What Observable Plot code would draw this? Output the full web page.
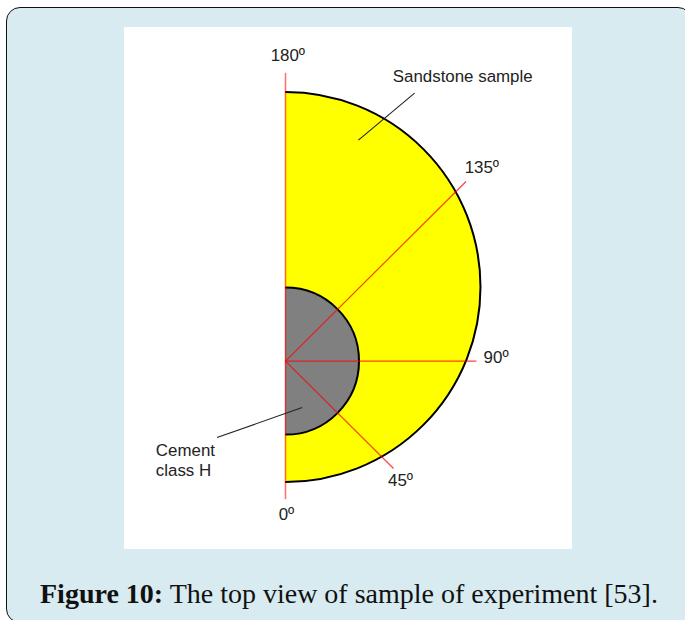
<!DOCTYPE html>
<html><head><meta charset="utf-8">
<script src="https://cdn.jsdelivr.net/npm/d3@7"></script>
<script src="https://cdn.jsdelivr.net/npm/@observablehq/plot@0.6"></script>
<style>
html,body{margin:0;padding:0;background:#fff;width:685px;height:620px;overflow:hidden}
#card{position:absolute;left:6px;top:7px;width:684px;height:614px;background:#d7ebf0;border:1.5px solid #111;border-radius:14px}
#chart{position:absolute;left:124px;top:27px;width:448px;height:522px}
#chart svg{display:block}
#cap{position:absolute;left:40px;top:576px;font:28px "Liberation Serif",serif;color:#111;white-space:nowrap;line-height:36px}
</style></head><body>
<div id="card"></div><div id="chart"></div>
<div id="cap"><b>Figure 10:</b> The top view of sample of experiment [53].</div>
<script>
// Units: 1 = sandstone radius / 10. Origin = sandstone centre.
const discNames = ["Sandstone sample", "Cement class H"];
const discX = [0, 0];
const discY = [0, -3.8];
const discR = [10, 3.77];
const discFill = ["#ffff00", "#808080"];

const rayAngles = [135, 90, 45];
const rayEndX = [9.26, 9.79, 5.54];
const rayEndY = [5.41, -3.8, -9.31];

const axisX = [0, 0];
const axisY = [10.95, -10.85];

const leaderX1 = [6.62, -3.51];
const leaderY1 = [9.94, -7.72];
const leaderX2 = [3.74, 0.855];
const leaderY2 = [7.53, -6.18];

const labels = ["180º", "135º", "90º", "45º", "0º", "Sandstone sample", "Cement\nclass H"];
const labelX = [0.12, 10.07, 10.8, 5.9, 0.05, 5.5, -6.65];
const labelY = [11.9, 6.2, -3.55, -9.85, -11.6, 10.87, -8.85];
const labelAnchor = ["middle", "middle", "middle", "middle", "middle", "start", "start"];

const discs = discNames.map((name, i) => ({name, x: discX[i], y: discY[i], r: discR[i], fill: discFill[i]}));
const rays = rayAngles.map((a, i) => ({a, x1: 0, y1: -3.8, x2: rayEndX[i], y2: rayEndY[i]}));
const leaders = leaderX1.map((x, i) => ({x1: x, y1: leaderY1[i], x2: leaderX2[i], y2: leaderY2[i]}));
const texts = labels.map((t, i) => ({t, x: labelX[i], y: labelY[i], a: labelAnchor[i]}));
const labelMark = a => Plot.text(texts.filter(d => d.a === a), {
  x: "x", y: "y", text: "t", textAnchor: a, fill: "#222", fontSize: 16.9,
  fontFamily: "Liberation Sans", lineHeight: 1.2
});

const plot = Plot.plot({
  width: 448, height: 522,
  marginLeft: 161, marginRight: 0, marginTop: 0, marginBottom: 0,
  style: {background: "#fff"},
  x: {domain: [0, 287 / 19.5], axis: null},
  y: {domain: [-262.5 / 19.5, 259.5 / 19.5], axis: null},
  r: {type: "linear", domain: [0, 10], range: [0, 195]},
  marks: [
    Plot.dot(discs, {x: "x", y: "y", r: "r", fill: "fill", stroke: "#000", strokeWidth: 2, clip: true}),
    Plot.link(rays, {x1: "x1", y1: "y1", x2: "x2", y2: "y2", stroke: "#ff0000", strokeOpacity: 0.75, strokeWidth: 1.2}),
    Plot.line(axisX.map((x, i) => ({x, y: axisY[i]})), {x: "x", y: "y", stroke: "#ff0000", strokeOpacity: 0.55, strokeWidth: 1.6}),
    Plot.link(leaders, {x1: "x1", y1: "y1", x2: "x2", y2: "y2", stroke: "#222", strokeWidth: 1.1}),
    labelMark("middle"),
    labelMark("start")
  ]
});
document.getElementById("chart").appendChild(plot);
</script></body></html>
